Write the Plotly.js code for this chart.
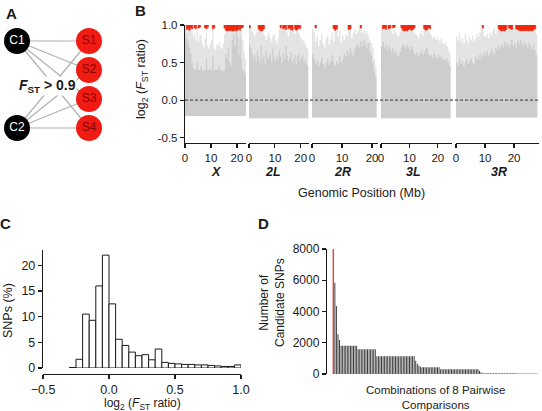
<!DOCTYPE html>
<html>
<head>
<meta charset="utf-8">
<script src="https://cdn.plot.ly/plotly-3.0.1.min.js"></script>
<style>html,body{margin:0;padding:0;background:#fff}#fig{width:542px;height:411px}</style>
</head>
<body>
<div id="fig"></div>
<script>
// ---------- Panel A: comparison scheme ----------
const nodeNames  = ['C1', 'C2', 'S1', 'S2', 'S3', 'S4'];
const nodeCol    = [0, 0, 1, 1, 1, 1];
const nodeRow    = [0, 3, 0, 1, 2, 3];
const nodeFill   = ['#000000', '#000000', '#f01c14', '#f01c14', '#f01c14', '#f01c14'];
const nodeText   = ['#ffffff', '#ffffff', '#8a0000', '#8a0000', '#8a0000', '#8a0000'];
const linkFrom   = ['C1', 'C1', 'C1', 'C1', 'C2', 'C2', 'C2', 'C2'];
const linkTo     = ['S1', 'S2', 'S3', 'S4', 'S1', 'S2', 'S3', 'S4'];

// ---------- Panel B: log2(Fst ratio) along the genome ----------
const chromNames = ['X', '2L', '2R', '3L', '3R'];
const chromLenMb = [23.5, 23.0, 21.8, 25.0, 28.6];
const chromFloor = [-0.21, -0.24, -0.23, -0.24, -0.23];
const BIN_MB = 0.5;
const RED_TOP = 1.0;

// dense cloud top and sparse (maximum) top per 0.5 Mb bin
const denseX = [0.88,0.82,0.78,0.70,0.62,0.50,
  0.42,0.40,0.41,0.52,0.40,0.40,0.45,0.40,0.38,0.40,
  0.55,0.40,0.40,0.42,0.40,0.58,0.40,0.40,0.41,0.40,
  0.46,0.40,0.40,0.38,0.40,0.62,0.55,0.70,0.50,0.45,
  0.80,0.88,0.72,0.90,0.85,0.60,0.82,0.55,0.40,0.38,0.35];
const peakX = [1.0,1.0,0.98,1.0,0.95,0.92,
  0.85,0.90,0.80,0.92,0.78,0.88,0.86,0.75,0.70,0.82,
  0.90,0.72,0.68,0.75,0.80,0.95,0.70,0.66,0.74,0.72,
  0.78,0.70,0.68,0.75,0.88,1.0,0.95,1.0,0.90,0.92,
  1.0,1.0,0.96,1.0,1.0,0.95,1.0,0.92,0.80,0.65,0.55];
const dense2L = [0.75,0.70,0.62,0.55,0.60,0.52,0.66,0.58,0.50,0.72,
  0.55,0.60,0.48,0.65,0.55,0.58,0.62,0.50,0.70,0.56,
  0.52,0.60,0.54,0.66,0.58,0.50,0.62,0.55,0.72,0.60,
  0.52,0.57,0.64,0.50,0.55,0.60,0.48,0.58,0.62,0.52,
  0.56,0.60,0.50,0.55,0.48,0.45];
const peak2L = [1.0,0.98,0.92,0.88,0.85,0.90,0.95,1.0,0.98,0.96,
  0.92,0.88,0.85,0.80,0.86,0.90,0.82,0.78,0.85,0.88,
  0.80,0.76,0.82,0.95,0.97,1.0,0.98,1.0,0.96,0.90,
  0.85,1.0,0.98,0.92,0.95,0.88,1.0,0.95,0.90,0.85,
  0.82,0.80,0.78,0.75,0.70,0.68];
const dense2R = [0.62,0.55,0.48,0.52,0.45,0.50,0.56,0.48,0.44,0.50,
  0.55,0.47,0.52,0.60,0.50,0.45,0.52,0.48,0.58,0.50,
  0.54,0.62,0.58,0.66,0.60,0.70,0.64,0.58,0.68,0.72,
  0.75,0.70,0.78,0.72,0.80,0.74,0.70,0.76,0.66,0.60,
  0.50,0.38,0.30];
const peak2R = [0.95,0.90,0.78,0.85,0.72,0.80,0.88,0.75,0.70,0.82,
  0.86,0.74,0.80,0.90,0.78,0.98,1.0,0.84,0.92,0.76,
  0.86,0.80,0.88,0.85,0.96,1.0,0.82,0.90,0.95,0.88,
  0.92,0.96,1.0,0.90,0.94,0.88,0.92,0.86,0.80,0.76,
  0.70,0.55,0.45];
const dense3L = [0.72,0.78,0.70,0.74,0.66,0.72,0.68,0.64,0.70,0.62,
  0.66,0.60,0.58,0.64,0.70,0.75,0.72,0.68,0.74,0.70,
  0.66,0.72,0.68,0.62,0.60,0.64,0.58,0.62,0.66,0.60,
  0.64,0.68,0.70,0.62,0.58,0.60,0.56,0.62,0.58,0.55,
  0.60,0.56,0.58,0.54,0.55,0.52,0.56,0.50,0.45];
const peak3L = [0.98,1.0,0.96,1.0,0.94,0.98,1.0,0.92,0.88,0.95,
  0.90,0.86,0.84,0.92,0.96,1.0,1.0,0.98,1.0,1.0,
  0.98,1.0,0.96,0.90,0.88,0.86,0.82,0.88,0.92,0.85,
  0.96,1.0,0.98,0.95,0.90,0.86,0.82,0.85,0.80,0.84,
  0.80,0.78,0.82,0.76,0.74,0.78,0.72,0.68,0.62];
const dense3R = [0.50,0.46,0.55,0.48,0.52,0.45,0.50,0.55,0.48,0.52,
  0.56,0.50,0.47,0.58,0.54,0.60,0.55,0.62,0.58,0.64,
  0.60,0.66,0.58,0.62,0.68,0.64,0.60,0.70,0.66,0.72,
  0.68,0.74,0.70,0.78,0.72,0.76,0.70,0.74,0.80,0.72,
  0.76,0.70,0.78,0.74,0.80,0.76,0.72,0.78,0.74,0.70,
  0.76,0.72,0.68,0.74,0.66,0.60];
const peak3R = [0.85,0.80,0.90,0.78,0.82,0.75,0.88,0.80,0.76,0.84,
  0.80,0.86,0.78,0.82,0.88,0.84,0.90,0.96,0.98,0.86,
  0.84,0.88,0.82,0.90,0.86,0.92,0.96,0.88,0.94,1.0,
  1.0,1.0,0.98,1.0,1.0,1.0,0.96,1.0,1.0,1.0,
  0.96,0.98,1.0,1.0,1.0,1.0,1.0,1.0,1.0,1.0,
  1.0,1.0,1.0,1.0,0.96,0.88];

// candidate SNPs (Fst > 0.9 in every comparison): bin index and lowest value in the bin
const redBinX  = [1,2,3,4,5,7,8,10,11,15,16,17,21,22,30,31,32,33,34,35,36,37,38,39,40,41,42,43,44];
const redLowX  = [0.94,0.95,0.93,0.96,0.95,0.96,0.95,0.96,0.97,0.96,0.95,0.97,0.95,0.96,0.96,
                  0.93,0.92,0.93,0.92,0.93,0.92,0.92,0.94,0.92,0.93,0.95,0.93,0.96,0.97];
const redBin2L = [0,7,8,9,10,11,24,26,27,28,30,31,32,33,35,36,37,38,39];
const redLow2L = [0.96,0.95,0.93,0.92,0.93,0.95,0.96,0.95,0.96,0.94,0.95,0.96,0.94,0.93,0.95,0.93,0.94,0.96,0.95];
const redBin2R = [2,14,15,16,24,25,32];
const redLow2R = [0.96,0.95,0.93,0.95,0.94,0.95,0.96];
const redBin3L = [1,2,3,5,6,8,9,14,15,16,17,18,19,20,21,22,23,30,31,32,33,34];
const redLow3L = [0.95,0.96,0.94,0.95,0.96,0.96,0.97,0.96,0.93,0.92,0.93,0.92,0.94,0.95,0.93,0.94,0.96,
                  0.95,0.93,0.94,0.96,0.95];
const redBin3R = [18,29,30,31,32,33,34,36,37,38,41,42,43,44,45,46,47,48,49,50,51,52,53,54];
const redLow3R = [0.96,0.95,0.93,0.92,0.93,0.92,0.94,0.96,0.95,0.94,0.95,0.94,0.93,0.92,0.93,0.92,
                  0.93,0.92,0.93,0.92,0.93,0.92,0.94,0.95];

// ---------- Panel C: histogram of log2(Fst ratio) ----------
const histLeftEdges = [-0.30,-0.25,-0.20,-0.15,-0.10,-0.05,0.00,0.05,0.10,0.15,0.20,0.25,0.30,
                       0.35,0.40,0.45,0.50,0.55,0.60,0.65,0.70,0.75,0.80,0.85,0.90,0.95];
const histPercent   = [0.1,1.7,10.5,9.3,16.0,22.0,12.5,5.6,4.4,3.1,2.4,2.6,1.6,
                       3.7,1.1,0.9,0.8,0.7,0.7,0.6,0.6,0.5,0.4,0.3,0.3,0.6];
const HIST_BIN = 0.05;

// ---------- Panel D: candidate SNPs per combination of comparisons ----------
const allEightCount = 8150;
const comboCounts = [5840,4350,2540,2180,
  1800,1800,1800,1800,1800,1800,1800,1800,1800,1800,1800,
  1590,1590,1590,1590,1590,1590,1590,1590,1590,1590,1590,1590,
  1140,1140,1140,1140,1140,1140,1140,1140,1140,1140,1140,1140,1140,
  1140,1140,1140,1140,1140,1140,1140,1140,1140,1140,1140,1140,
  840,650,540,470,
  430,430,430,430,430,430,430,430,430,430,430,430,
  300,300,300,300,300,300,300,300,300,300,300,300,300,
  300,300,300,300,300,300,300,300,300,300,300,300,
  200,110,
  55,55,55,55,55,55,55,55,55,55,55,55,55,55,55,55,55,55,55,55,55,55,55,
  25,25,25,25,25,25,25,25,25,25,25,25,25];

// ---------- figure geometry (pixel boxes converted to paper fractions) ----------
const W = 542, H = 411;
const px = v => v / W;
const py = v => 1 - v / H;
const FONT = 'Liberation Sans, Arial, sans-serif';
const INK = '#1a1a1a';

const traces = [];

// Panel A links and nodes
const idx = n => nodeNames.indexOf(n);
const lx = [], ly = [];
linkFrom.forEach((f, k) => {
  const a = idx(f), b = idx(linkTo[k]);
  lx.push(nodeCol[a], nodeCol[b], null);
  ly.push(nodeRow[a], nodeRow[b], null);
});
traces.push({type: 'scatter', mode: 'lines', x: lx, y: ly, xaxis: 'x8', yaxis: 'y8',
  line: {color: '#b0b0b0', width: 1.2}, hoverinfo: 'skip'});
traces.push({type: 'scatter', mode: 'markers+text', x: nodeCol, y: nodeRow, xaxis: 'x8', yaxis: 'y8',
  text: nodeNames, textposition: 'middle center',
  textfont: {family: FONT, size: 12, color: nodeText},
  marker: {size: 26, color: nodeFill, line: {width: 0}}, hoverinfo: 'skip'});

// Panel B clouds: stepped envelopes from the floor up to each bin's top
const stepPolygon = (tops, floor) => {
  const xs = [], ys = [];
  tops.forEach((t, i) => { xs.push(i * BIN_MB); ys.push(t); });
  xs.push(tops.length * BIN_MB); ys.push(tops[tops.length - 1]);
  xs.push(tops.length * BIN_MB); ys.push(floor);
  xs.push(0); ys.push(floor);
  return {x: xs, y: ys};
};
// one closed rectangle per candidate bin, separated by gaps
const redBlocks = (bins, lows) => {
  const xs = [], ys = [];
  bins.forEach((b, i) => {
    const l = b * BIN_MB, r = (b + 1) * BIN_MB;
    xs.push(l, r, r, l, l, null);
    ys.push(lows[i], lows[i], RED_TOP, RED_TOP, lows[i], null);
  });
  return {x: xs, y: ys};
};
const chromDense = [denseX, dense2L, dense2R, dense3L, dense3R];
const chromPeak  = [peakX, peak2L, peak2R, peak3L, peak3R];
const chromRedBin = [redBinX, redBin2L, redBin2R, redBin3L, redBin3R];
const chromRedLow = [redLowX, redLow2L, redLow2R, redLow3L, redLow3R];
chromNames.forEach((name, k) => {
  const xa = 'x' + (k === 0 ? '' : (k + 1));
  const fl = chromFloor[k];
  const sparse = stepPolygon(chromPeak[k], fl);
  traces.push({type: 'scatter', mode: 'lines', xaxis: xa, yaxis: 'y', x: sparse.x, y: sparse.y,
    fill: 'toself', fillcolor: '#e4e4e4', line: {width: 0, shape: 'hv'}, hoverinfo: 'skip'});
  const dense = stepPolygon(chromDense[k], fl);
  traces.push({type: 'scatter', mode: 'lines', xaxis: xa, yaxis: 'y', x: dense.x, y: dense.y,
    fill: 'toself', fillcolor: '#cdcdcd', line: {width: 0, shape: 'hv'}, hoverinfo: 'skip'});
  const red = redBlocks(chromRedBin[k], chromRedLow[k]);
  traces.push({type: 'scatter', mode: 'lines', xaxis: xa, yaxis: 'y', x: red.x, y: red.y,
    fill: 'toself', fillcolor: '#f22a10', line: {width: 0.6, color: '#f22a10'},
    connectgaps: false, hoverinfo: 'skip'});
});

// Panel C histogram
traces.push({type: 'bar', xaxis: 'x6', yaxis: 'y6',
  x: histLeftEdges.map(e => e + HIST_BIN / 2), y: histPercent, width: HIST_BIN,
  marker: {color: '#ffffff', line: {color: INK, width: 1}}, hoverinfo: 'skip'});

// Panel D bars
traces.push({type: 'bar', xaxis: 'x7', yaxis: 'y7', x: [0], y: [allEightCount], width: 0.9,
  cliponaxis: false, marker: {color: '#ee4040', line: {width: 0}}, hoverinfo: 'skip'});
traces.push({type: 'bar', xaxis: 'x7', yaxis: 'y7',
  x: comboCounts.map((_, i) => i + 1), y: comboCounts, width: 0.62,
  marker: {color: '#3a3a3a', line: {width: 0}}, hoverinfo: 'skip'});

// ---------- axes ----------
const lineAx = {
  showline: true, linecolor: INK, linewidth: 1.2, ticks: 'outside', ticklen: 4,
  tickwidth: 1.2, tickcolor: INK, showgrid: false, zeroline: false,
  tickfont: {family: FONT, size: 11.5, color: INK}, fixedrange: true
};
const hiddenAx = {visible: false, showgrid: false, zeroline: false, fixedrange: true};

const chromDomains = [[185, 246], [249, 308.5], [312, 377.5], [381, 452], [456, 539]];

const layout = {
  width: W, height: H, margin: {l: 0, r: 0, t: 0, b: 0},
  paper_bgcolor: '#ffffff', plot_bgcolor: 'rgba(0,0,0,0)',
  showlegend: false, barmode: 'overlay',
  font: {family: FONT, color: INK},
  yaxis: Object.assign({}, lineAx, {domain: [py(143), py(25)], range: [-0.57, 1.0], anchor: 'x',
    tickvals: [-0.5, 0, 0.5, 1.0], ticktext: ['-0.5', '0.0', '0.5', '1.0']}),
  xaxis6: Object.assign({}, lineAx, {domain: [px(43), px(241)], range: [-0.5, 1.0], anchor: 'free',
    position: py(374), tickvals: [-0.5, 0, 0.5, 1.0], tickformat: '.1f', tickfont: {family: FONT, size: 12.5, color: INK}}),
  yaxis6: Object.assign({}, lineAx, {domain: [py(368), py(250)], range: [0, 23], anchor: 'x6',
    tickvals: [0, 5, 10, 15, 20], tickfont: {family: FONT, size: 12.5, color: INK}}),
  xaxis7: Object.assign({}, hiddenAx, {domain: [px(327), px(540)], range: [-4.05, 132.9], anchor: 'y7'}),
  yaxis7: Object.assign({}, lineAx, {domain: [py(374), py(249)], range: [0, 8000], anchor: 'x7',
    tickvals: [0, 2000, 4000, 6000, 8000], tickfont: {family: FONT, size: 12, color: INK}}),
  xaxis8: Object.assign({}, hiddenAx, {domain: [px(2.6), px(103.4)], range: [-0.2, 1.2], anchor: 'y8'}),
  yaxis8: Object.assign({}, hiddenAx, {domain: [py(142.5), py(26.5)], range: [3.5, -0.5], anchor: 'x8'}),
  shapes: [{type: 'line', xref: 'paper', yref: 'y', x0: px(185), x1: px(539), y0: 0, y1: 0,
    line: {color: '#505050', width: 1.1, dash: '3px,2px'}, layer: 'above'}],
  annotations: []
};
chromNames.forEach((name, k) => {
  const key = 'xaxis' + (k === 0 ? '' : (k + 1));
  layout[key] = Object.assign({}, lineAx, {
    domain: [px(chromDomains[k][0]), px(chromDomains[k][1])],
    range: [0, chromLenMb[k]], anchor: 'y', tickvals: [0, 10, 20]
  });
});

// ---------- text ----------
const note = (text, x, y, size, extra) => layout.annotations.push(Object.assign({
  text: text, xref: 'paper', yref: 'paper', x: px(x), y: py(y),
  xanchor: 'center', yanchor: 'middle', showarrow: false,
  font: {family: FONT, size: size, color: INK}
}, extra || {}));

note('<b>A</b>', 11, 14, 15);
note('<b>B</b>', 140, 11, 15);
note('<b>C</b>', 5, 223, 15);
note('<b>D</b>', 263, 223, 15);
note('<b><i>F</i><sub>ST</sub> &gt; 0.9</b>', 47, 86, 14, {bgcolor: '#ffffff', borderpad: 0});

note('log<sub>2</sub> (<i>F</i><sub>ST</sub> ratio)', 142, 79, 12.5, {textangle: -90});
const chromLabelPx = [216, 273, 342, 413, 499];
chromNames.forEach((name, k) => note('<b><i>' + name + '</i></b>', chromLabelPx[k], 172, 12.5));
note('Genomic Position (Mb)', 362, 193, 12.5);

note('SNPs (%)', 8, 311, 12.5, {textangle: -90});
note('log<sub>2</sub> (<i>F</i><sub>ST</sub> ratio)', 142, 404, 12);

note('Number of<br>Candidate SNPs', 272, 303, 12, {textangle: -90});
note('Combinations of 8 Pairwise<br>Comparisons', 435, 397, 11.5);

Plotly.newPlot('fig', traces, layout, {staticPlot: true, displayModeBar: false});
</script>
</body>
</html>
